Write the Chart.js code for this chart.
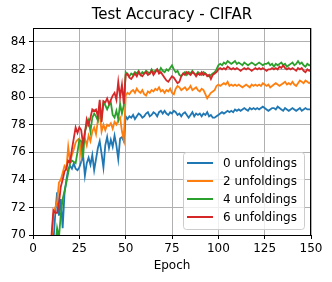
<!DOCTYPE html>
<html>
<head>
<meta charset="utf-8">
<script src="https://cdn.jsdelivr.net/npm/chart.js@4.4.0/dist/chart.umd.min.js"></script>
<style>
	body { margin: 0; background: #fff; }
	#chart { display: block; }
</style>
</head>
<body>
<canvas id="chart" width="332" height="282"></canvas>
<script>
// epochs 1..150
const epochs	= Array.from( { length: 150 }, ( _, i ) => i + 1 );

const series_labels	= [ '0 unfoldings', '2 unfoldings', '4 unfoldings', '6 unfoldings' ];
const series_colors	= [ '#1f77b4', '#ff7f0e', '#2ca02c', '#d62728' ];

const x_ticks	= [ 0, 25, 50, 75, 100, 125, 150 ];
const y_ticks	= [ 70, 72, 74, 76, 78, 80, 82, 84 ];

const acc_0 = [
	40.1, 48.5, 53.2, 57.0, 60.1, 62.4, 64.3, 65.9, 67.2, 68.4,
	69.5, 71.5, 73.1, 71.4, 72.6, 70.5, 73.0, 74.0, 74.8, 75.0,
	74.8, 75.2, 74.8, 74.7, 74.9, 75.3, 75.8, 74.3, 75.2, 75.6,
	75.1, 75.8, 74.7, 75.5, 76.3, 76.8, 75.9, 74.9, 76.5, 77.1,
	76.3, 76.9, 76.4, 77.2, 76.5, 75.5, 77.0, 77.1, 76.8, 78.6,
	78.4, 78.6, 78.5, 78.7, 78.4, 78.6, 78.8, 78.7, 78.5, 78.6,
	78.8, 78.9, 78.6, 78.7, 78.9, 78.8, 78.6, 78.9, 79.0, 78.8,
	79.0, 78.8, 78.7, 78.9, 78.8, 79.0, 78.9, 78.7, 78.8, 78.6,
	78.8, 78.9, 78.7, 78.5, 78.7, 78.9, 78.6, 78.8, 78.7, 78.8,
	78.6, 78.8, 78.7, 78.9, 78.6, 78.7, 78.5, 78.5, 78.6, 78.7,
	78.8, 78.9, 78.8, 78.9, 79.0, 78.9, 79.0, 78.9, 79.1, 79.0,
	79.1, 79.0, 79.1, 79.2, 79.1, 79.0, 79.2, 79.1, 79.2, 79.1,
	79.2, 79.1, 79.2, 79.3, 79.2, 79.1, 79.0, 79.1, 79.2, 79.2,
	79.1, 79.3, 79.2, 79.1, 79.0, 79.2, 79.1, 79.0, 79.1, 79.2,
	79.1, 79.0, 79.1, 79.2, 79.0, 79.1, 79.2, 79.1, 79.1, 79.1
];

const acc_2 = [
	41.0, 49.3, 54.0, 57.8, 60.8, 63.1, 65.0, 66.6, 68.0, 69.3,
	71.5, 72.0, 72.4, 73.8, 74.0, 74.5, 75.0, 74.8, 76.4, 75.3,
	75.8, 76.2, 76.7, 76.9, 77.0, 75.7, 76.8, 77.0, 76.5, 77.2,
	76.8, 77.5, 77.8, 77.3, 78.3, 78.8, 77.5, 78.0, 77.6, 78.0,
	77.9, 78.1, 77.7, 78.2, 78.0, 78.3, 78.5, 77.5, 76.9, 80.1,
	80.3, 80.2, 80.4, 80.5, 80.3, 80.6, 80.4, 80.3, 80.5, 80.2,
	80.1, 80.4, 80.3, 80.5, 80.4, 80.6, 80.5, 80.7, 80.4, 80.5,
	80.3, 80.5, 80.4, 80.6, 80.3, 80.2, 80.6, 80.8, 80.7, 80.5,
	80.6, 80.7, 80.5, 80.6, 80.8, 80.5, 80.6, 80.7, 80.5, 80.4,
	80.6, 80.5, 80.2, 79.9, 80.1, 80.3, 80.4, 80.5, 80.8, 80.9,
	80.8, 80.9, 81.0, 80.9, 81.1, 80.8, 80.9, 80.8, 80.9, 80.8,
	80.9, 80.8, 80.7, 80.8, 80.9, 80.8, 80.7, 80.9, 80.8, 80.9,
	80.8, 80.9, 80.8, 81.0, 80.9, 80.8, 80.9, 80.7, 80.8, 80.9,
	81.0, 80.9, 80.8, 80.9, 81.0, 81.1, 80.9, 81.0, 80.9, 81.1,
	80.9, 80.8, 81.0, 81.2, 81.1, 81.0, 81.2, 81.1, 81.0, 81.1
];

const acc_4 = [
	38.0, 46.0, 51.5, 55.5, 58.6, 61.0, 63.0, 64.7, 66.2, 67.4,
	68.4, 69.2, 70.5, 69.8, 71.5, 72.6, 73.2, 73.8, 74.5, 75.2,
	75.4, 75.3, 75.2, 76.0, 76.9, 76.8, 75.6, 77.5, 77.9, 78.3,
	77.5, 78.5, 78.8, 78.6, 78.3, 79.3, 78.5, 79.6, 79.4, 79.1,
	79.4, 79.6, 78.7, 78.5, 79.0, 78.4, 79.5, 78.8, 79.4, 81.8,
	81.6, 81.5, 81.7, 81.6, 81.8, 81.7, 81.9, 81.6, 81.8, 81.7,
	81.9, 81.8, 81.7, 82.0, 81.8, 81.9, 82.0, 81.8, 82.1, 81.9,
	81.8, 82.0, 81.9, 82.1, 82.3, 82.0, 81.8, 81.9, 81.6, 81.5,
	81.7, 81.8, 81.6, 81.8, 81.7, 81.9, 81.7, 81.6, 81.8, 81.7,
	81.6, 81.8, 81.7, 81.6, 81.5, 81.6, 81.7, 81.8, 82.0, 82.3,
	82.4, 82.3, 82.5, 82.4, 82.6, 82.5, 82.4, 82.5, 82.6, 82.4,
	82.5, 82.4, 82.3, 82.5, 82.4, 82.3, 82.4, 82.5, 82.4, 82.3,
	82.4, 82.5, 82.4, 82.3, 82.4, 82.4, 82.5, 82.3, 82.4, 82.2,
	82.4, 82.3, 82.4, 82.5, 82.3, 82.4, 82.2, 82.3, 82.4, 82.5,
	82.3, 82.4, 82.6, 82.4, 82.5, 82.3, 82.2, 82.4, 82.3, 82.3
];

const acc_6 = [
	42.0, 50.1, 54.8, 58.5, 61.5, 63.8, 65.7, 67.3, 68.7, 70.0,
	71.8, 71.6, 71.6, 72.3, 73.5, 74.0, 74.6, 74.8, 75.4, 75.3,
	76.2, 77.0, 77.8, 77.4, 77.8, 77.6, 76.6, 77.4, 78.4, 78.0,
	78.5, 79.1, 79.0, 79.1, 78.6, 79.8, 78.2, 79.7, 79.6, 79.9,
	79.5, 79.8, 80.1, 80.3, 79.8, 81.1, 80.0, 80.9, 79.5, 81.6,
	81.7, 81.4, 81.3, 81.5, 81.7, 81.5, 81.8, 81.6, 81.5, 81.7,
	81.8, 81.6, 81.7, 81.9, 81.6, 81.8, 82.0, 81.7, 81.8, 81.6,
	81.4, 81.2, 81.1, 81.3, 81.5, 81.4, 81.2, 81.0, 81.1, 81.5,
	81.7, 81.6, 81.8, 81.7, 81.6, 81.8, 81.7, 81.5, 81.7, 81.6,
	81.8, 81.6, 81.7, 81.5, 81.6, 81.3, 81.6, 81.7, 81.8, 82.0,
	82.1, 82.0, 82.1, 82.0, 82.2, 82.1, 82.0, 82.1, 82.0, 82.1,
	82.0, 81.9, 82.0, 82.1, 82.0, 82.1, 82.0, 81.9, 82.0, 82.1,
	82.0, 82.1, 82.0, 82.1, 82.0, 81.9, 82.0, 82.0, 82.1, 82.0,
	82.1, 82.0, 82.2, 82.1, 82.3, 82.1, 82.0, 82.1, 82.0, 82.1,
	82.0, 81.9, 82.1, 82.0, 82.1, 81.9, 81.8, 82.0, 81.9, 82.0
];

const all_series	= [ acc_0, acc_2, acc_4, acc_6 ];

Chart.defaults.font.family	= "'DejaVu Sans', sans-serif";
Chart.defaults.font.size	= 12;
Chart.defaults.color		= '#000';

// black frame round the plot
const frame_plugin = {
	id: 'frame',
	afterDraw( chart ) {
		const a		= chart.chartArea;
		const ctx	= chart.ctx;
		ctx.save();
		ctx.strokeStyle	= '#000';
		ctx.lineWidth	= 1;
		ctx.strokeRect( Math.round( a.left ) + 0.5, Math.round( a.top ) + 0.5, Math.round( a.right - a.left ) - 1, Math.round( a.bottom - a.top ) );
		ctx.restore();
	}
};

// matplotlib style legend in the lower right corner
const inner_legend = {
	id: 'innerLegend',
	afterDraw( chart ) {
		const a		= chart.chartArea;
		const ctx	= chart.ctx;
		const w		= 121;
		const h		= 77;
		const x0	= a.right - 7 - w;
		const y0	= a.bottom - 6 - h;

		ctx.save();
		ctx.fillStyle	= 'rgba(255,255,255,0.8)';
		ctx.strokeStyle	= '#cccccc';
		ctx.lineWidth	= 1;
		ctx.beginPath();
		ctx.roundRect( x0 + 0.5, y0 + 0.5, w, h, 3 );
		ctx.fill();
		ctx.stroke();

		ctx.font			= "12px 'DejaVu Sans'";
		ctx.textBaseline	= 'middle';
		ctx.textAlign		= 'left';
		for ( let i = 0; i < series_labels.length; i++ ) {
			const y = y0 + 11 + i * 18;
			ctx.strokeStyle	= series_colors[ i ];
			ctx.lineWidth	= 2;
			ctx.beginPath();
			ctx.moveTo( x0 + 4, y );
			ctx.lineTo( x0 + 30, y );
			ctx.stroke();
			ctx.fillStyle	= '#000';
			ctx.fillText( series_labels[ i ], x0 + 40, y + 1 );
		}
		ctx.restore();
	}
};

let datasets = [];
for ( let i = 0; i < all_series.length; i++ ) {
	datasets.push( {
		label: series_labels[ i ],
		data: all_series[ i ].map( ( v, j ) => ( { x: epochs[ j ], y: v } ) ),
		borderColor: series_colors[ i ],
		borderWidth: 1.8,
		pointRadius: 0,
		tension: 0,
		order: all_series.length - 1 - i
	} );
}

new Chart( document.getElementById( 'chart' ), {
	type: 'line',
	data: { datasets: datasets },
	plugins: [ frame_plugin, inner_legend ],
	options: {
		responsive: false,
		animation: false,
		layout: { padding: { left: 0, right: 21, top: 0, bottom: 0 } },
		plugins: {
			legend: { display: false },
			tooltip: { enabled: false },
			title: {
				display: true,
				text: 'Test Accuracy - CIFAR',
				fullSize: false,
				font: { size: 15, weight: 'normal' },
				padding: { top: 6, bottom: 4 }
			}
		},
		scales: {
			x: {
				type: 'linear',
				min: 0,
				max: 150,
				afterBuildTicks: s => { s.ticks = x_ticks.map( v => ( { value: v } ) ); },
				afterFit: s => { s.height = 47; },
				ticks: { padding: 3, maxRotation: 0 },
				grid: { color: '#b0b0b0', lineWidth: 1, tickLength: 4, tickColor: '#000' },
				border: { display: false },
				title: { display: true, text: 'Epoch', font: { size: 12 }, padding: { top: 4, bottom: 9 } }
			},
			y: {
				min: 70,
				max: 85,
				afterBuildTicks: s => { s.ticks = y_ticks.map( v => ( { value: v } ) ); },
				afterFit: s => { s.width = 33; },
				ticks: { padding: 3 },
				grid: { color: '#b0b0b0', lineWidth: 1, tickLength: 4, tickColor: '#000' },
				border: { display: false }
			}
		}
	}
} );
</script>
</body>
</html>
